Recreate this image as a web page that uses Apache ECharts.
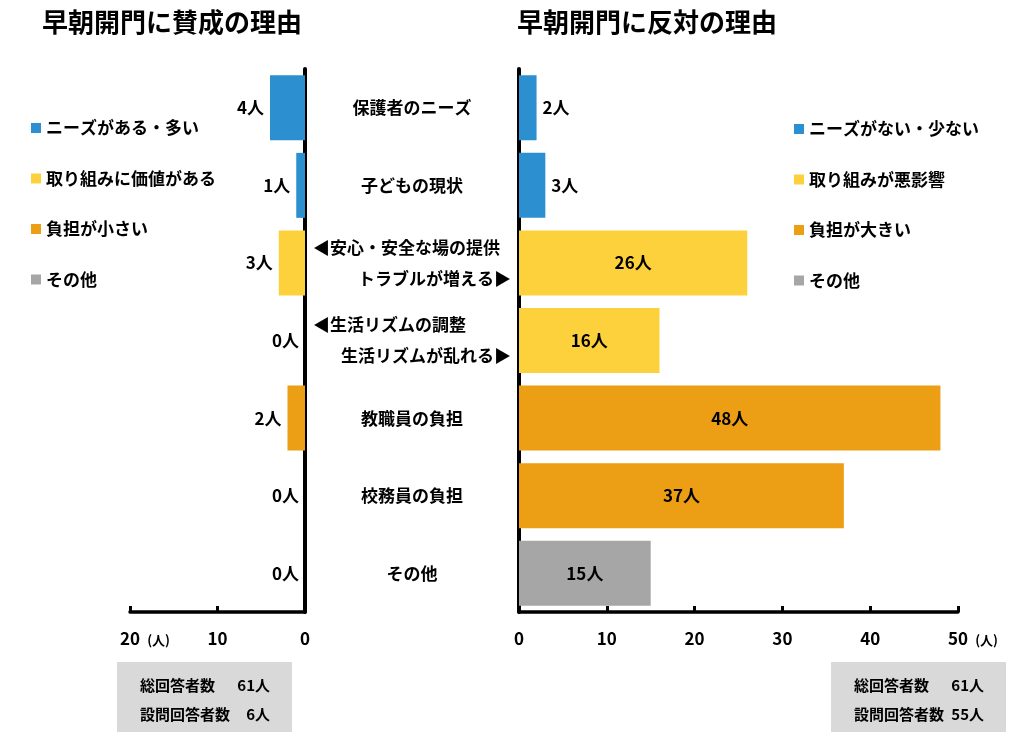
<!DOCTYPE html>
<html lang="ja">
<head>
  <meta charset="UTF-8">
  <title>早朝開門の理由</title>
  <style>
    html, body { margin: 0; padding: 0; background: #fff; }
  </style>
</head>
<body>
<div id="main" style="width: 1024px;height:739px;"></div>
<script src="https://cdn.jsdelivr.net/npm/echarts@6/dist/echarts.min.js"></script>
<script>
// 中央の項目（2行のものは左右に振り分けて表示）
var categories = [
  '保護者のニーズ',
  '子どもの現状',
  '◀安心・安全な場の提供\nトラブルが増える▶',
  '◀生活リズムの調整\n生活リズムが乱れる▶',
  '教職員の負担',
  '校務員の負担',
  'その他'
];
// 各行がどの分類（凡例）に属するか
var rowGroup = [0, 0, 1, 1, 2, 2, 3];

var proNames = ['ニーズがある・多い', '取り組みに価値がある', '負担が小さい', 'その他'];
var conNames = ['ニーズがない・少ない', '取り組みが悪影響', '負担が大きい', 'その他'];

var proValues = [4, 1, 3, 0, 2, 0, 0];
var conValues = [2, 3, 26, 16, 48, 37, 15];

var proTicks = [0, 10, 20];
var conTicks = [0, 10, 20, 30, 40, 50];
var unit = '(人)';

var proTotals = ['総回答者数', '61人', '設問回答者数', '6人'];
var conTotals = ['総回答者数', '61人', '設問回答者数', '55人'];

var colors = ['#2B8FD0', '#FDD13B', '#EC9E14', '#A6A6A6'];
var FONT = 'Noto Sans CJK JP';

var myChart = echarts.init(document.getElementById('main'));

function groupData(values, g, side) {
  return values.map(function (v, i) {
    if (rowGroup[i] !== g) return '-';
    if (side === 'con') {
      return { value: v, label: { position: v >= 10 ? 'inside' : 'right' } };
    }
    return v;
  });
}

var series = [];
proNames.forEach(function (name, g) {
  series.push({
    name: name,
    type: 'bar',
    stack: 'pro',
    xAxisIndex: 0,
    yAxisIndex: 0,
    barWidth: 65,
    itemStyle: { color: colors[g] },
    label: {
      show: true,
      position: 'left',
      distance: 6,
      formatter: '{c}人',
      color: '#000',
      fontFamily: FONT,
      fontWeight: 'bold',
      fontSize: 17
    },
    data: groupData(proValues, g, 'pro')
  });
});
conNames.forEach(function (name, g) {
  series.push({
    name: name,
    type: 'bar',
    stack: 'con',
    xAxisIndex: 1,
    yAxisIndex: 1,
    barWidth: 65,
    itemStyle: { color: colors[g] },
    label: {
      show: true,
      distance: 6,
      formatter: '{c}人',
      color: '#000',
      fontFamily: FONT,
      fontWeight: 'bold',
      fontSize: 17
    },
    data: groupData(conValues, g, 'con')
  });
});

function tickLabel(max) {
  return function (v) {
    if (v === max) return '{p|}{n|' + v + '}{u|' + unit + '}';
    return '{n|' + v + '}';
  };
}
var tickRich = {
  n: { fontFamily: FONT, fontWeight: 'bold', fontSize: 17, color: '#000' },
  u: { fontFamily: FONT, fontWeight: 'bold', fontSize: 13, color: '#000', width: 30, align: 'right', padding: [4, 0, 0, 0] },
  p: { width: 30 }
};

var axisLine = { show: true, lineStyle: { color: '#000', width: 3.5 } };

function catLabel(v) {
  var parts = v.split('\n');
  if (parts.length > 1) return '{a|' + parts[0] + '}\n{b|' + parts[1] + '}';
  return '{c|' + v + '}';
}
var catText = { fontFamily: FONT, fontWeight: 'bold', fontSize: 17, color: '#000', lineHeight: 31 };

function totalsBox(left, texts) {
  var font = 'bold 15px "' + FONT + '"';
  return {
    type: 'group',
    left: left,
    top: 662,
    children: [
      { type: 'rect', shape: { x: 0, y: 0, width: 175, height: 70 }, style: { fill: '#D9D9D9' } },
      { type: 'text', x: 23, y: 23, style: { text: texts[0], fill: '#000', font: font, textVerticalAlign: 'middle' } },
      { type: 'text', x: 153, y: 23, style: { text: texts[1], fill: '#000', font: font, textAlign: 'right', textVerticalAlign: 'middle' } },
      { type: 'text', x: 23, y: 52, style: { text: texts[2], fill: '#000', font: font, textVerticalAlign: 'middle' } },
      { type: 'text', x: 153, y: 52, style: { text: texts[3], fill: '#000', font: font, textAlign: 'right', textVerticalAlign: 'middle' } }
    ]
  };
}

var legendText = { fontFamily: FONT, fontWeight: 'bold', fontSize: 17, color: '#000', lineHeight: 20 };

myChart.setOption({
  animation: false,
  title: [
    { text: '早朝開門に賛成の理由', left: 37, top: 4, textStyle: { fontFamily: FONT, fontWeight: 'bold', fontSize: 26, color: '#000' } },
    { text: '早朝開門に反対の理由', left: 512, top: 4, textStyle: { fontFamily: FONT, fontWeight: 'bold', fontSize: 26, color: '#000' } }
  ],
  legend: [
    {
      data: proNames,
      orient: 'vertical',
      left: 26,
      top: 113,
      icon: 'rect',
      itemWidth: 10,
      itemHeight: 10,
      itemGap: 30.5,
      selectedMode: false,
      textStyle: legendText
    },
    {
      data: conNames,
      orient: 'vertical',
      left: 789,
      top: 114,
      icon: 'rect',
      itemWidth: 10,
      itemHeight: 10,
      itemGap: 30.5,
      selectedMode: false,
      textStyle: legendText
    }
  ],
  grid: [
    { left: 130, width: 175, top: 69, height: 543 },
    { left: 519, width: 439, top: 69, height: 543 }
  ],
  xAxis: [
    {
      gridIndex: 0,
      type: 'value',
      inverse: true,
      min: proTicks[0],
      max: proTicks[proTicks.length - 1],
      interval: proTicks[1] - proTicks[0],
      splitLine: { show: false },
      axisLine: axisLine,
      axisTick: { show: true, inside: true, length: 6, lineStyle: { color: '#000', width: 3 } },
      axisLabel: { margin: 18, formatter: tickLabel(proTicks[proTicks.length - 1]), rich: tickRich }
    },
    {
      gridIndex: 1,
      type: 'value',
      min: conTicks[0],
      max: conTicks[conTicks.length - 1],
      interval: conTicks[1] - conTicks[0],
      splitLine: { show: false },
      axisLine: axisLine,
      axisTick: { show: true, inside: true, length: 6, lineStyle: { color: '#000', width: 3 } },
      axisLabel: { margin: 18, formatter: tickLabel(conTicks[conTicks.length - 1]), rich: tickRich }
    }
  ],
  yAxis: [
    {
      gridIndex: 0,
      type: 'category',
      inverse: true,
      position: 'right',
      data: categories,
      axisLine: { show: true, onZero: false, lineStyle: { color: '#000', width: 4 } },
      axisTick: { show: false },
      axisLabel: {
        margin: 8,
        align: 'left',
        width: 198,
        interval: 0,
        formatter: catLabel,
        rich: {
          a: Object.assign({ align: 'left' }, catText),
          b: Object.assign({ align: 'right' }, catText),
          c: Object.assign({ align: 'center' }, catText)
        }
      }
    },
    {
      gridIndex: 1,
      type: 'category',
      inverse: true,
      position: 'left',
      data: categories,
      axisLine: { show: true, onZero: false, lineStyle: { color: '#000', width: 4 } },
      axisTick: { show: false },
      axisLabel: { show: false }
    }
  ],
  graphic: [
    totalsBox(117, proTotals),
    totalsBox(831, conTotals)
  ],
  series: series
});
</script>
</body>
</html>
